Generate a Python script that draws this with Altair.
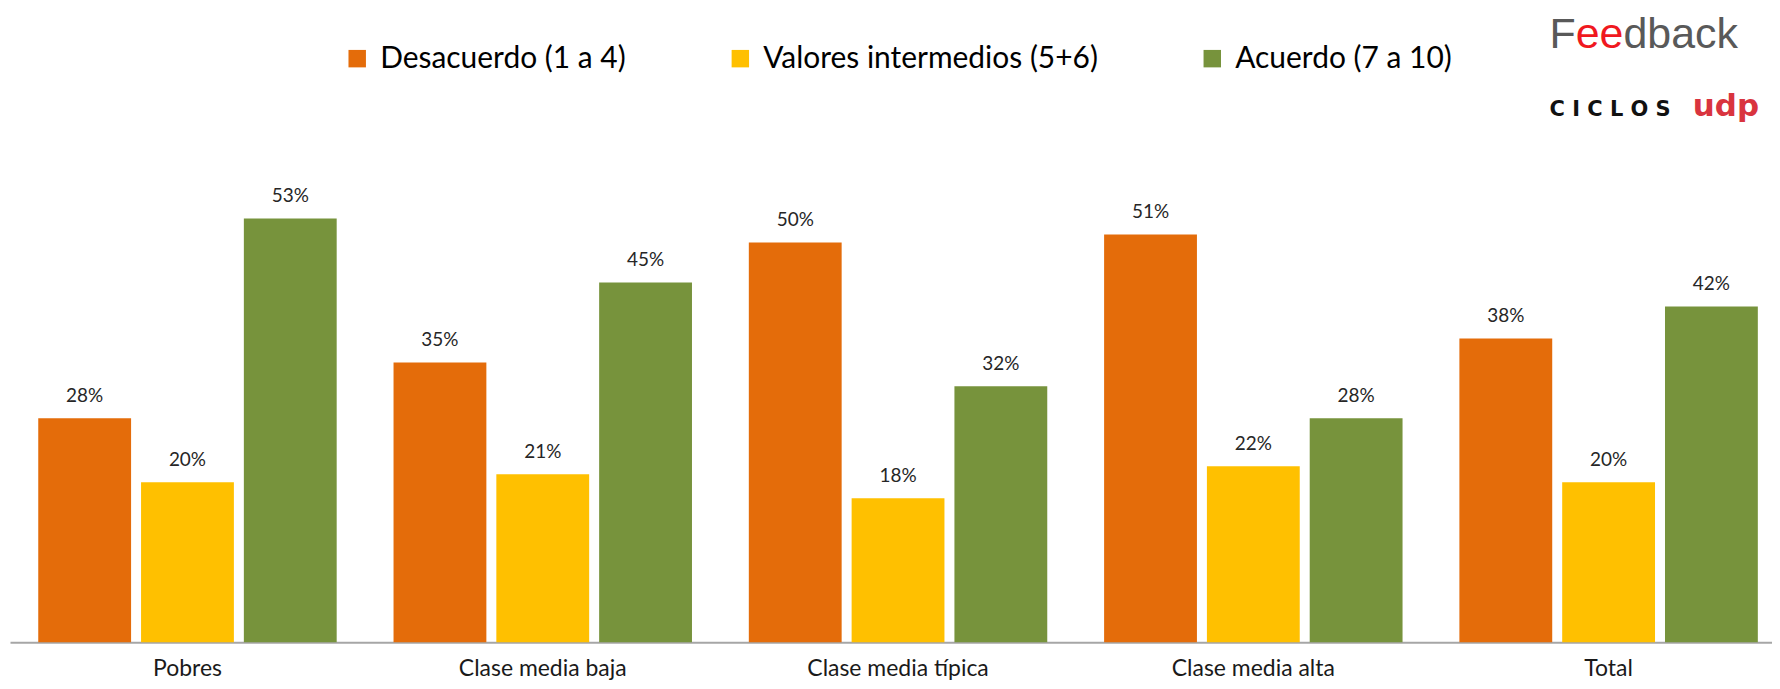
import altair as alt
import pandas as pd

categories = ["Pobres", "Clase media baja", "Clase media típica", "Clase media alta", "Total"]
series = ["Desacuerdo (1 a 4)", "Valores intermedios (5+6)", "Acuerdo (7 a 10)"]
desacuerdo = [28, 35, 50, 51, 38]
intermedios = [20, 21, 18, 22, 20]
acuerdo = [53, 45, 32, 28, 42]
colors = ["#E46C0A", "#FFC000", "#77933C"]

logo_f = ["F"]
logo_ee = ["ee"]
logo_dback = ["dback"]
logo_ciclos = ["C I C L O S"]
logo_udp = ["udp"]

rows = []
for i, c in enumerate(categories):
    for s, vals in zip(series, [desacuerdo, intermedios, acuerdo]):
        rows.append({"cat": c, "serie": s, "val": vals[i]})
df = pd.DataFrame(rows)

W, H = 1766, 481

base = alt.Chart(df).encode(
    x=alt.X(
        "cat:N",
        sort=categories,
        scale=alt.Scale(paddingInner=0.16, paddingOuter=0.0597, align=0.666, round=False),
        axis=alt.Axis(
            title=None, labelAngle=0, ticks=False, tickSize=0, grid=False,
            domainColor="#a6a6a6", domainWidth=2,
            labelFont="Lato", labelFontSize=23, labelColor="#1a1a1a",
            labelPadding=15, labelLimit=400,
        ),
    ),
    xOffset=alt.XOffset("serie:N", sort=series,
                        scale=alt.Scale(paddingInner=0.097, paddingOuter=0, round=False)),
    y=alt.Y("val:Q", scale=alt.Scale(domain=[0, 60], nice=False, zero=True), axis=None),
)

bars = base.mark_bar().encode(
    color=alt.Color(
        "serie:N",
        sort=series,
        scale=alt.Scale(domain=series, range=colors),
        legend=alt.Legend(
            title=None, orient="none", legendX=333, legendY=-119,
            direction="horizontal", symbolType="square", symbolSize=306,
            symbolStrokeWidth=0, labelFont="Lato", labelFontSize=30,
            labelColor="#000000", columnPadding=99, labelOffset=8,
            padding=0, labelLimit=600,
        ),
    )
)

labels = base.transform_calculate(lab="datum.val + '%'").mark_text(
    dy=-16, baseline="alphabetic", font="Lato", fontSize=19, color="#262626"
).encode(text="lab:N")


def logo(txt, x, y, color, font, size, weight, align="left"):
    return alt.Chart(pd.DataFrame({"t": txt})).mark_text(
        align=align, baseline="alphabetic", font=font, fontSize=size,
        fontWeight=weight, color=color,
    ).encode(x=alt.value(x), y=alt.value(y), text="t:N")


FS = 43
fx = 1543
fy = -115
fb1 = logo(logo_f, fx, fy, "#595959", "Liberation Sans", FS, "normal")
fb2 = logo(logo_ee, fx + 0.611 * FS, fy, "#f01820", "Liberation Sans", FS, "normal")
fb3 = logo(logo_dback, fx + (0.611 + 1.112) * FS, fy, "#595959", "Liberation Sans", FS, "normal")
ciclos = logo(logo_ciclos, 1543, -47, "#111111", "DejaVu Sans", 21, "bold")
udp = logo(logo_udp, 1753, -47, "#d9343f", "DejaVu Sans", 31, "bold", align="right")

chart = alt.layer(bars, labels, fb1, fb2, fb3, ciclos, udp).properties(
    width=W, height=H,
    padding={"left": 2, "top": 154, "right": 0, "bottom": 38},
    autosize=alt.AutoSizeParams(type="none"),
).configure_view(stroke=None)

chart.save("out.html", embed_options={"renderer": "svg", "actions": False})
